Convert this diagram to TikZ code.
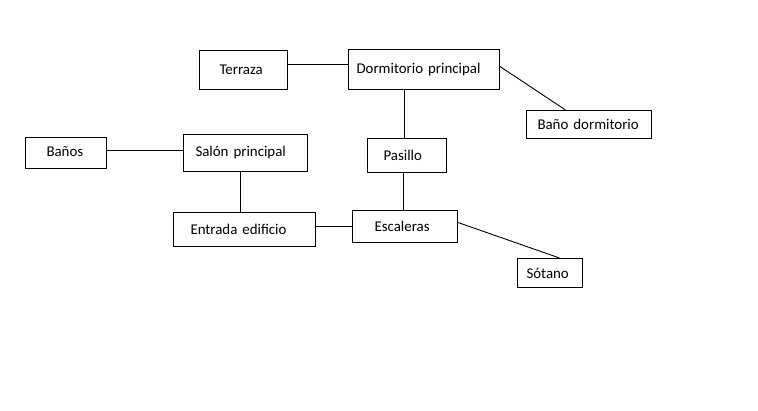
\documentclass[tikz,border=0pt]{standalone}
\usepackage{fontspec}
\setmainfont{Carlito}
\begin{document}
\begin{tikzpicture}[x=1pt,y=-1pt,
  room/.style={draw,line width=1pt,align=left,inner ysep=0pt,minimum height=#1,font=\fontsize{14.9}{16}\selectfont,anchor=north west},
  link/.style={line width=0.9pt}]
\useasboundingbox[fill=white] (0,0) rectangle (758,411);
\node[room=39pt,inner xsep=20pt,text width=48pt] (terraza) at (199,50) {Terraza};
\node[room=40pt,inner xsep=8pt,text width=135pt] (dorm) at (348,49) {\raisebox{2pt}{Dormitorio principal}};
\node[room=28pt,inner xsep=11pt,text width=103pt] (banodorm) at (526,110) {Baño dormitorio};
\node[room=31pt,inner xsep=21pt,text width=39pt] (banos) at (25,137) {\raisebox{2pt}{Baños}};
\node[room=37pt,inner xsep=12pt,text width=100pt] (salon) at (183,134) {Salón principal};
\node[room=34pt,inner xsep=16pt,text width=47pt] (pasillo) at (367,138) {Pasillo};
\node[room=34pt,inner xsep=17pt,text width=108pt] (entrada) at (173,212) {Entrada edificio};
\node[room=32pt,inner xsep=22pt,text width=61pt] (escaleras) at (352,210) {Escaleras};
\node[room=29pt,inner xsep=9pt,text width=47pt] (sotano) at (517,258) {Sótano};
\draw[link] ([yshift=5.5pt]terraza.east) -- ([yshift=5pt]dorm.west);
\draw[link] ([yshift=3pt]dorm.east) -- ([xshift=-23.5pt]banodorm.north);
\draw[link] ([xshift=-19.5pt]dorm.south) -- ([xshift=-2.5pt]pasillo.north);
\draw[link] ([xshift=-3.5pt]pasillo.south) -- ([xshift=-1.5pt]escaleras.north);
\draw[link] ([yshift=2.5pt]banos.east) -- ([yshift=2.5pt]salon.west);
\draw[link] ([xshift=-5pt]salon.south) -- ([xshift=-4pt]entrada.north);
\draw[link] ([yshift=3pt]entrada.east) -- (escaleras.west);
\draw[link] ([yshift=4pt]escaleras.east) -- ([xshift=9.5pt]sotano.north);
\end{tikzpicture}
\end{document}
